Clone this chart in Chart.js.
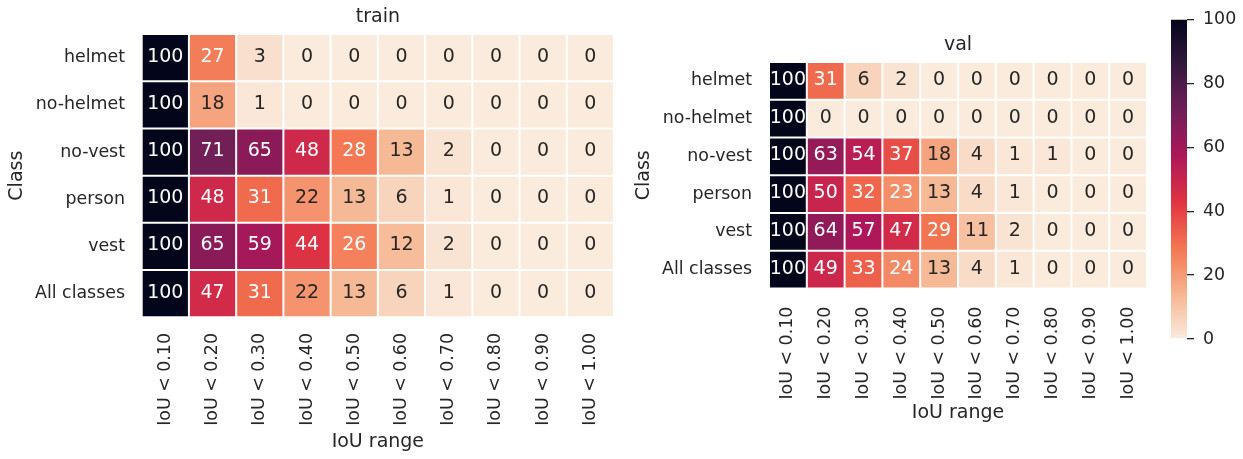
<!DOCTYPE html>
<html><head><meta charset="utf-8">
<script src="https://cdn.jsdelivr.net/npm/chart.js@4.4.1/dist/chart.umd.min.js"></script>
<style>
html,body{margin:0;padding:0;background:#fff;}
body{width:1243px;height:459px;position:relative;overflow:hidden;}
canvas{position:absolute;top:0;}
</style></head><body>
<canvas id="c1" width="700" height="459" style="left:0;width:700px;height:459px"></canvas>
<canvas id="c2" width="623" height="459" style="left:620px;width:623px;height:459px"></canvas>
<canvas id="c3" width="143" height="459" style="left:1100px;width:143px;height:459px"></canvas>
<script>
// ---- data ----
const classes = ['helmet', 'no-helmet', 'no-vest', 'person', 'vest', 'All classes'];
const iouLabels = ['IoU < 0.10', 'IoU < 0.20', 'IoU < 0.30', 'IoU < 0.40', 'IoU < 0.50',
                   'IoU < 0.60', 'IoU < 0.70', 'IoU < 0.80', 'IoU < 0.90', 'IoU < 1.00'];

const trainHelmet   = [100, 27, 3, 0, 0, 0, 0, 0, 0, 0];
const trainNoHelmet = [100, 18, 1, 0, 0, 0, 0, 0, 0, 0];
const trainNoVest   = [100, 71, 65, 48, 28, 13, 2, 0, 0, 0];
const trainPerson   = [100, 48, 31, 22, 13, 6, 1, 0, 0, 0];
const trainVest     = [100, 65, 59, 44, 26, 12, 2, 0, 0, 0];
const trainAll      = [100, 47, 31, 22, 13, 6, 1, 0, 0, 0];

const valHelmet     = [100, 31, 6, 2, 0, 0, 0, 0, 0, 0];
const valNoHelmet   = [100, 0, 0, 0, 0, 0, 0, 0, 0, 0];
const valNoVest     = [100, 63, 54, 37, 18, 4, 1, 1, 0, 0];
const valPerson     = [100, 50, 32, 23, 13, 4, 1, 0, 0, 0];
const valVest       = [100, 64, 57, 47, 29, 11, 2, 0, 0, 0];
const valAll        = [100, 49, 33, 24, 13, 4, 1, 0, 0, 0];

const colorbarTicks = [0, 20, 40, 60, 80, 100];

// ---- style ----
const FAMILY = '"DejaVu Sans", sans-serif';
const TXT = '#262626';
const LAB = 19, TICK = 17.4, ANN = 19;
Chart.defaults.font.family = FAMILY;
Chart.defaults.color = TXT;

// rocket colormap anchors (t: 0 dark -> 1 light)
const rocket = [
  [0/7, [3, 5, 26]], [1/7, [53, 25, 62]], [2/7, [112, 31, 87]], [3/7, [173, 23, 89]],
  [4/7, [225, 51, 66]], [5/7, [243, 118, 81]], [6/7, [246, 180, 143]], [1, [250, 235, 221]]
];
function rocketAt(t) {
  t = Math.max(0, Math.min(1, t));
  for (let k = 0; k < rocket.length - 1; k++) {
    const [t0, c0] = rocket[k], [t1, c1] = rocket[k + 1];
    if (t <= t1) {
      const f = (t - t0) / (t1 - t0);
      return c0.map((c, i) => c + (c1[i] - c) * f);
    }
  }
  return rocket[rocket.length - 1][1];
}
function rgbStr(c) { return `rgb(${Math.round(c[0])},${Math.round(c[1])},${Math.round(c[2])})`; }
function cmapRGB(v) { return rocketAt(1 - v / 100); }   // rocket_r, vmin 0, vmax 100
function cmap(v) { return rgbStr(cmapRGB(v)); }
function textColor(v) {
  const lin = cmapRGB(v).map(c => { c /= 255; return c <= 0.03928 ? c / 12.92 : Math.pow((c + 0.055) / 1.055, 2.4); });
  const lum = 0.2126 * lin[0] + 0.7152 * lin[1] + 0.0722 * lin[2];
  return lum > 0.408 ? TXT : '#ffffff';
}

const annotPlugin = {
  id: 'annot',
  afterDatasetsDraw(chart) {
    const ctx = chart.ctx;
    ctx.save();
    ctx.font = `${ANN}px ${FAMILY}`;
    ctx.textAlign = 'center';
    ctx.textBaseline = 'middle';
    chart.data.datasets.forEach((ds, i) => {
      const meta = chart.getDatasetMeta(i);
      meta.data.forEach((el, j) => {
        const v = ds.values[j];
        const p = el.getProps(['x', 'y', 'base'], true);
        ctx.fillStyle = textColor(v);
        ctx.fillText(String(v), p.x, (p.y + p.base) / 2 - 1);
      });
    });
    ctx.restore();
  }
};

function heatmap(id, title, rows, g) {
  const datasets = rows.map((vals, i) => ({
    label: classes[i],
    values: vals,
    data: vals.map(() => [i, i + 1]),
    backgroundColor: vals.map(v => cmap(v)),
    borderColor: '#ffffff',
    borderWidth: 1,
    borderSkipped: false,
    inflateAmount: 0,
    barPercentage: 1,
    categoryPercentage: 1
  }));
  return new Chart(document.getElementById(id), {
    type: 'bar',
    data: { labels: iouLabels, datasets },
    plugins: [annotPlugin],
    options: {
      responsive: false, animation: false, events: [],
      layout: { padding: { left: 0, right: g.padR, top: 0, bottom: 0 } },
      plugins: {
        legend: { display: false }, tooltip: { enabled: false },
        title: { display: true, text: title, fullSize: false, color: TXT,
                 font: { family: FAMILY, size: LAB, weight: 'normal' },
                 padding: { top: g.tTop, bottom: g.tBot } }
      },
      scales: {
        x: {
          type: 'category', stacked: true, offset: true,
          grid: { display: false, drawTicks: false }, border: { display: false },
          ticks: { minRotation: 90, maxRotation: 90, autoSkip: false, padding: g.xPad,
                   color: TXT, font: { family: FAMILY, size: TICK } },
          title: { display: true, text: 'IoU range', color: TXT, font: { family: FAMILY, size: LAB },
                   padding: { top: 0, bottom: g.xtPad } },
          afterFit(s) { s.height = g.xH; }
        },
        y: {
          type: 'linear', min: 0, max: classes.length, reverse: true, stacked: false,
          afterBuildTicks(s) { s.ticks = classes.map((c, i) => ({ value: i + 0.5 })); },
          grid: { display: false, drawTicks: false }, border: { display: false },
          ticks: { autoSkip: false, padding: g.yPad, color: TXT, font: { family: FAMILY, size: TICK },
                   callback: (v) => classes[Math.floor(v)] },
          title: { display: true, text: 'Class', color: TXT, font: { family: FAMILY, size: LAB },
                   padding: { top: g.ytPad, bottom: 0 } },
          afterFit(s) { s.width = g.yW; }
        }
      }
    }
  });
}

heatmap('c1', 'train',
  [trainHelmet, trainNoHelmet, trainNoVest, trainPerson, trainVest, trainAll],
  { padR: 86, tTop: 5.3, tBot: 5.9, xH: 141.7, xPad: 15.7, xtPad: 5.6, yPad: 16.7, ytPad: 5.3, yW: 141.7 });

heatmap('c2', 'val',
  [valHelmet, valNoHelmet, valNoVest, valPerson, valVest, valAll],
  { padR: 96, tTop: 33.6, tBot: 5.6, xH: 170.5, xPad: 18.2, xtPad: 34.6, yPad: 17, ytPad: 12.6, yW: 149 });

// ---- colorbar ----
new Chart(document.getElementById('c3'), {
  type: 'bar',
  data: {
    labels: [''],
    datasets: [{
      data: [[colorbarTicks[0], colorbarTicks[colorbarTicks.length - 1]]],
      borderWidth: 0, inflateAmount: 0, barPercentage: 1, categoryPercentage: 1,
      backgroundColor(ctx) {
        const ch = ctx.chart, area = ch.chartArea, ys = ch.scales.y;
        if (!area || !ys) return cmap(50);
        const y0 = ys.getPixelForValue(0), y1 = ys.getPixelForValue(100);
        if (!isFinite(y0) || !isFinite(y1) || y0 === y1) return cmap(50);
        const grad = ch.ctx.createLinearGradient(0, y0, 0, y1);
        rocket.forEach(([t, c]) => grad.addColorStop(1 - t, rgbStr(c)));
        return grad;
      }
    }]
  },
  options: {
    responsive: false, animation: false, events: [],
    layout: { padding: { left: 71, right: 0, top: 11.7, bottom: 120 } },
    plugins: { legend: { display: false }, tooltip: { enabled: false } },
    scales: {
      x: { display: false, offset: true },
      y: {
        position: 'right', min: 0, max: 100,
        afterBuildTicks(s) { s.ticks = colorbarTicks.map(v => ({ value: v })); },
        grid: { drawOnChartArea: false, drawTicks: true, tickLength: 7, color: TXT, lineWidth: 1.3 },
        border: { display: false },
        ticks: { padding: 9, color: TXT, font: { family: FAMILY, size: TICK } },
        afterFit(s) { s.width = 56; }
      }
    }
  }
});
</script>
</body></html>
